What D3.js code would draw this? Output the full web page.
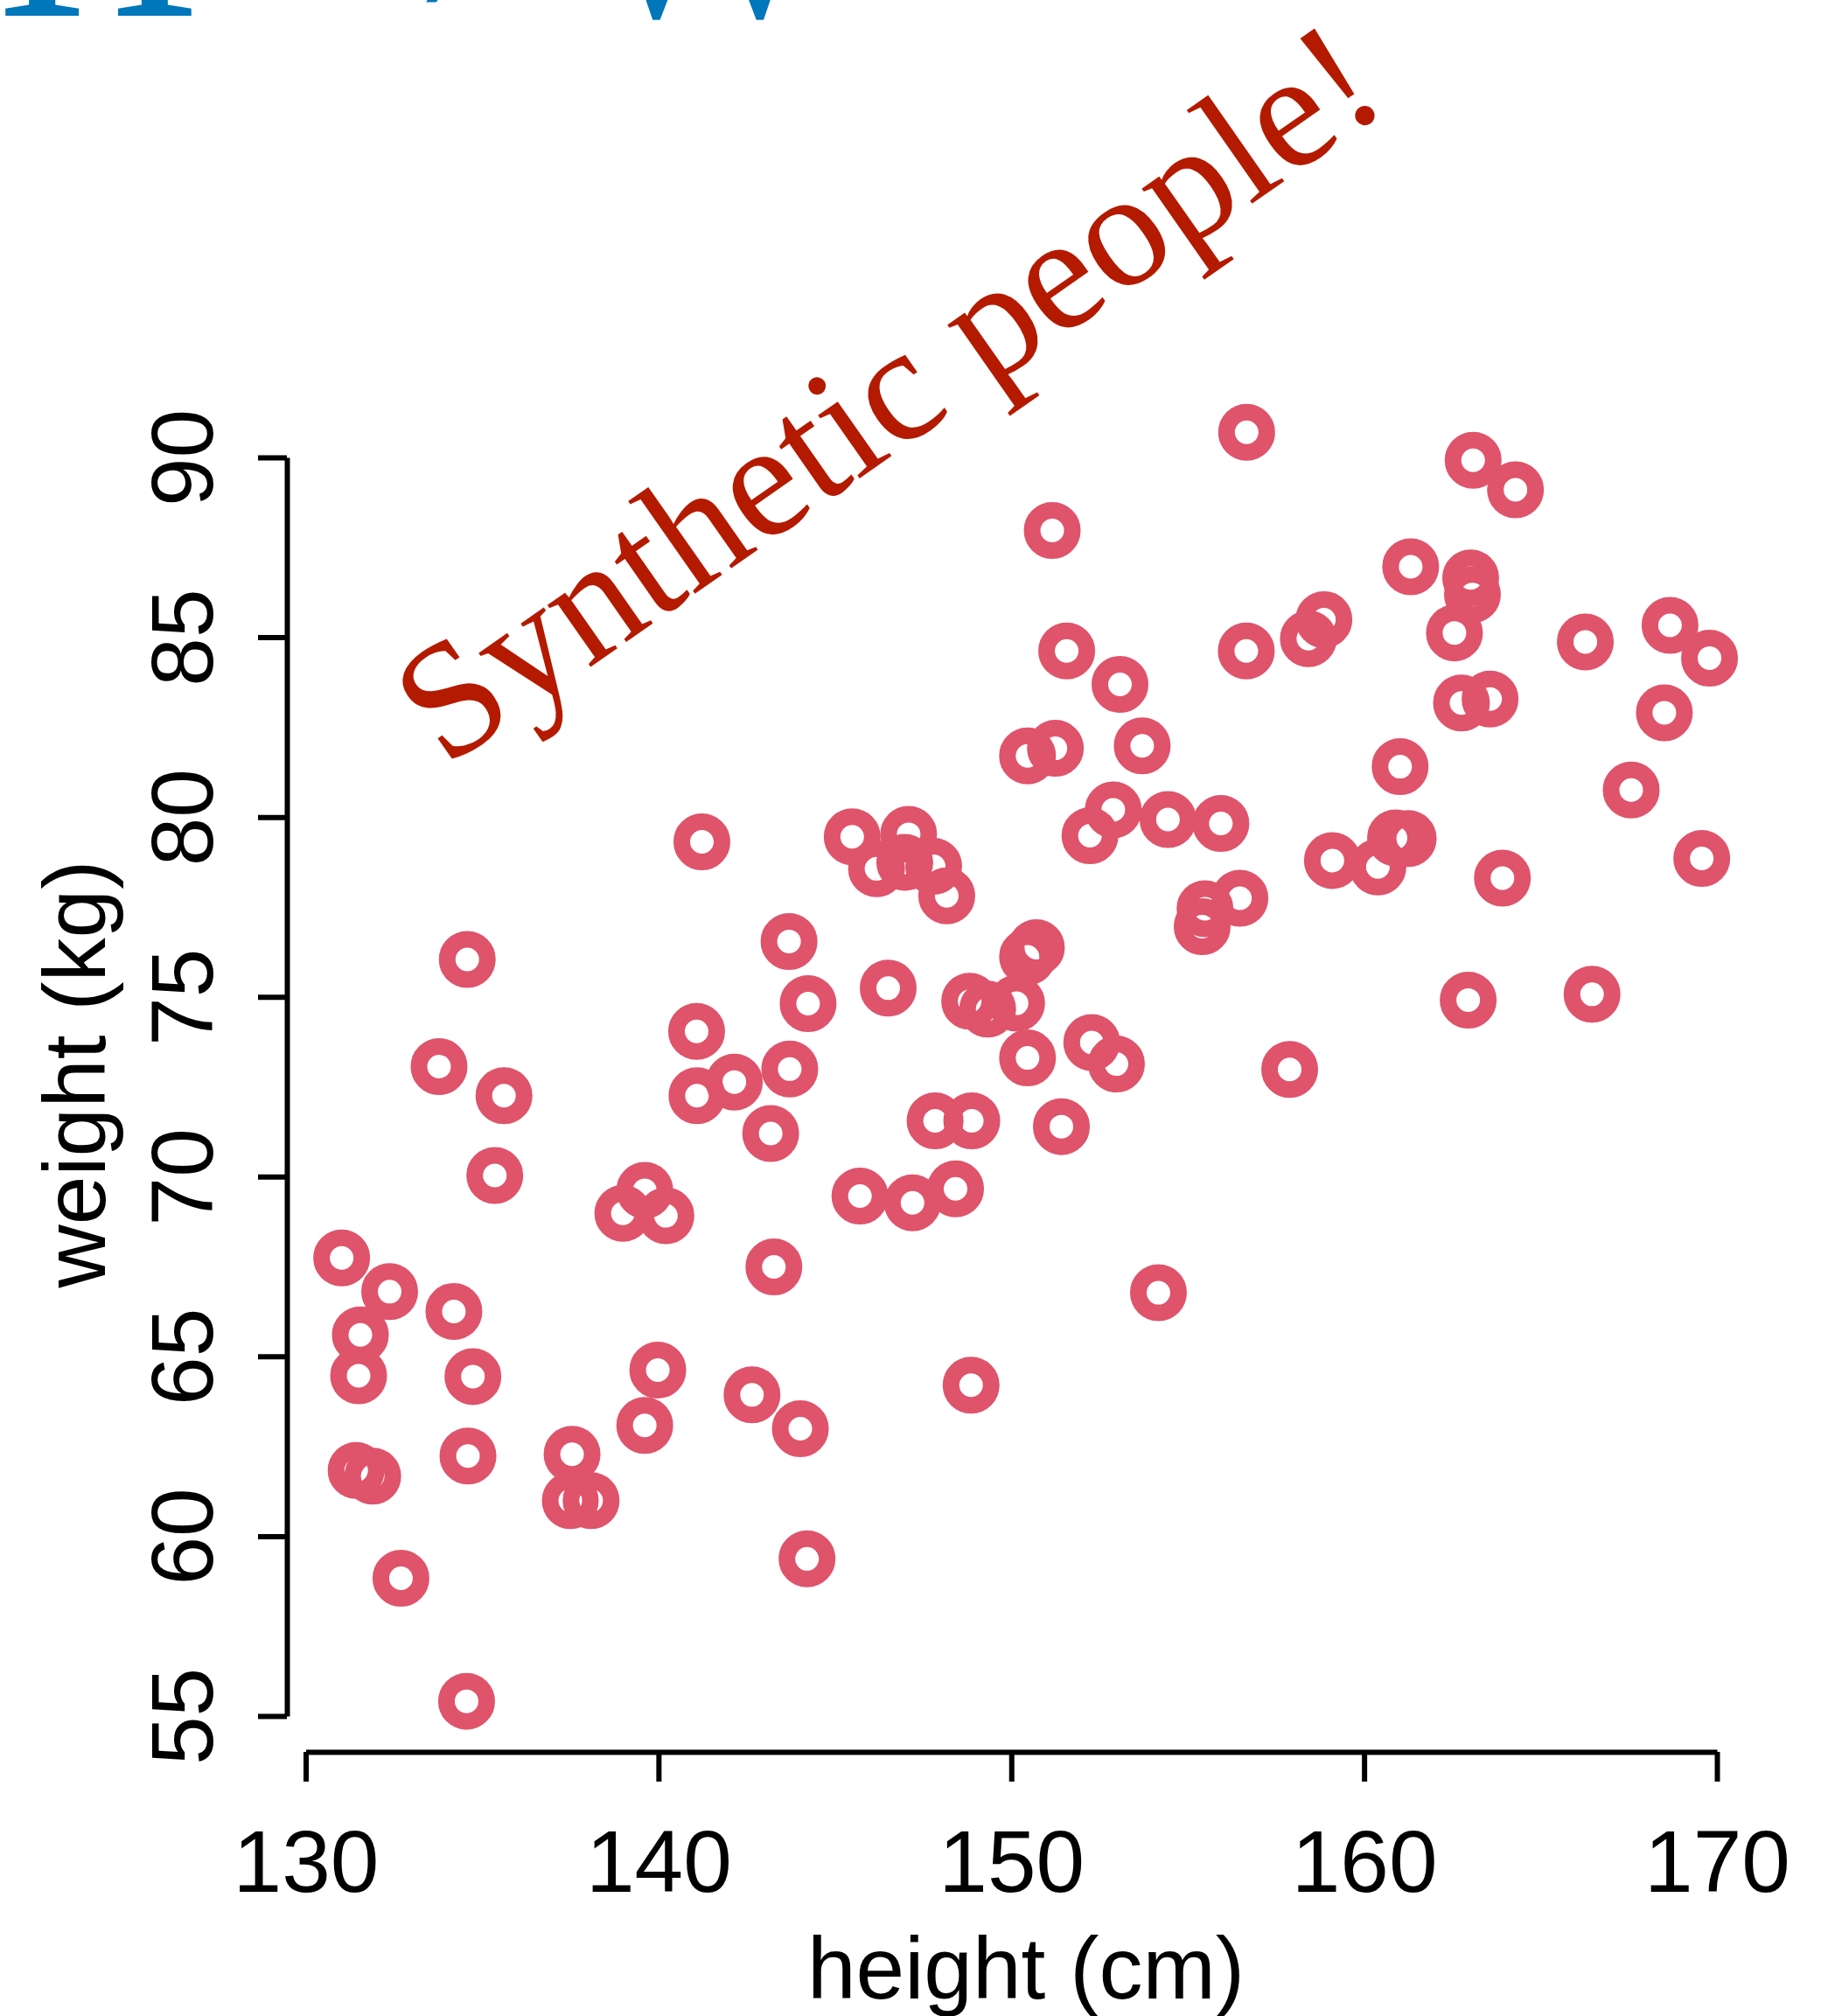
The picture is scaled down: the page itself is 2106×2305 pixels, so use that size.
<!DOCTYPE html>
<meta charset="utf-8">
<script src="https://d3js.org/d3.v7.min.js"></script>
<style>
  body { margin: 0; background: #fff; }
  svg { display: block; }
</style>
<body>
<div id="chart"></div>
<script>
// simulated people: height (cm) and weight (kg)
var heights = [156.67, 163.09, 164.29, 151.16, 161.32, 163.02, 163.07, 158.86, 158.42, 168.67,
  162.56, 166.27, 156.66, 151.57, 169.79, 153.08, 162.76, 163.57, 168.51, 151.25,
  150.46, 153.71, 161.02, 167.57, 152.89, 154.44, 155.94, 152.23, 145.49, 141.23,
  147.09, 146.18, 146.98, 147.80, 148.17, 159.10, 160.39, 160.89, 161.25, 169.57,
  163.92, 155.49, 155.41, 156.48, 143.70, 134.58, 150.71, 150.46, 146.51, 144.24,
  148.82, 149.33, 150.15, 162.95, 166.46, 141.08, 152.28, 152.98, 150.46, 133.78,
  143.72, 157.89, 142.15, 141.09, 135.62, 143.18, 147.84, 148.88, 151.42, 135.36,
  145.71, 147.20, 148.42, 138.99, 139.61, 140.21, 131.02, 132.38, 143.27, 154.17,
  131.55, 134.20, 131.50, 134.74, 139.98, 142.65, 148.86, 144.02, 139.61, 134.60,
  137.55, 131.43, 131.90, 137.50, 138.09, 132.70, 144.21, 134.56];
var weights = [90.70, 89.92, 89.10, 87.97, 86.96, 86.65, 86.19, 85.49, 84.96, 85.33,
  85.12, 84.87, 84.62, 84.62, 84.42, 83.69, 83.17, 83.28, 82.90, 81.91,
  81.70, 81.98, 81.40, 80.75, 80.20, 79.93, 79.82, 79.48, 79.45, 79.31,
  79.52, 78.56, 78.74, 78.63, 77.81, 78.79, 78.61, 79.42, 79.40, 78.85,
  78.30, 77.45, 76.95, 77.74, 76.54, 76.04, 76.37, 76.11, 75.24, 74.81,
  74.88, 74.66, 74.82, 74.91, 75.07, 74.04, 73.73, 73.13, 73.30, 73.06,
  72.99, 72.98, 72.63, 72.25, 72.25, 71.20, 71.55, 71.55, 71.39, 70.03,
  69.46, 69.27, 69.66, 68.98, 69.62, 68.91, 67.74, 66.80, 67.49, 66.77,
  65.60, 66.25, 64.46, 64.44, 64.62, 63.93, 64.20, 62.99, 63.08, 62.23,
  62.28, 61.83, 61.67, 60.99, 60.99, 58.83, 59.37, 55.41];

var xTicks = [130, 140, 150, 160, 170];
var yTicks = [55, 60, 65, 70, 75, 80, 85, 90];

var width = 2106, height = 2305;
var sans = "'Liberation Sans', Arial, Helvetica, sans-serif";

var svg = d3.select("#chart")
  .append("svg")
    .attr("width", width)
    .attr("height", height);

// scales
var x = d3.scaleLinear().domain([130, 170]).range([349.5, 1963]);
var y = d3.scaleLinear().domain([55, 90]).range([1962, 523]);

// big blue heading, mostly above the frame (cut off like the original)
svg.append("text")
  .attr("x", -3)
  .attr("y", 18)
  .style("font-family", "'Liberation Serif', 'Times New Roman', serif")
  .style("font-size", "320px")
  .style("word-spacing", "-22px")
  .style("fill", "#0076bb")
  .text("H \u2192 W");

// x axis
var xAxis = svg.append("g")
  .attr("transform", "translate(0,2003)")
  .call(d3.axisBottom(x).tickValues(xTicks).tickSize(34).tickSizeOuter(0).tickFormat(d3.format("d")));
xAxis.select(".domain").attr("stroke", "#000").attr("stroke-width", 6);
xAxis.selectAll(".tick line").attr("stroke", "#000").attr("stroke-width", 6);
xAxis.selectAll(".tick text")
  .attr("y", 160)
  .attr("dy", 0)
  .style("font-family", sans)
  .style("font-size", "100px")
  .attr("fill", "#000");

// y axis
var yAxis = svg.append("g")
  .attr("transform", "translate(328,0)")
  .call(d3.axisLeft(y).tickValues(yTicks).tickSize(33).tickSizeOuter(0).tickFormat(d3.format("d")));
yAxis.select(".domain").attr("stroke", "#000").attr("stroke-width", 6);
yAxis.selectAll(".tick line").attr("stroke", "#000").attr("stroke-width", 6);
yAxis.selectAll(".tick text")
  .attr("x", 0)
  .attr("dy", 0)
  .attr("text-anchor", "middle")
  .attr("transform", "translate(-85,0) rotate(-90)")
  .style("font-family", sans)
  .style("font-size", "100px")
  .attr("fill", "#000");

// axis titles
svg.append("text")
  .attr("x", 1173)
  .attr("y", 2285)
  .attr("text-anchor", "middle")
  .style("font-family", sans)
  .style("font-size", "100px")
  .text("height (cm)");

svg.append("text")
  .attr("transform", "translate(120,1228) rotate(-90)")
  .attr("text-anchor", "middle")
  .style("font-family", sans)
  .style("font-size", "100px")
  .text("weight (kg)");

// points
var pts = heights.map(function(h, i) { return { h: h, w: weights[i] }; });
svg.append("g")
  .selectAll("circle")
  .data(pts)
  .join("circle")
    .attr("cx", function(d) { return x(d.h); })
    .attr("cy", function(d) { return y(d.w); })
    .attr("r", 23)
    .attr("fill", "none")
    .attr("stroke", "#df536b")
    .attr("stroke-width", 19);

// annotation
svg.append("text")
  .attr("transform", "translate(1050,500) rotate(-35)")
  .attr("text-anchor", "middle")
  .style("font-family", "'Liberation Serif', 'Times New Roman', serif")
  .style("font-size", "188px")
  .style("fill", "#b41a00")
  .text("Synthetic people!");
</script>
</body>
